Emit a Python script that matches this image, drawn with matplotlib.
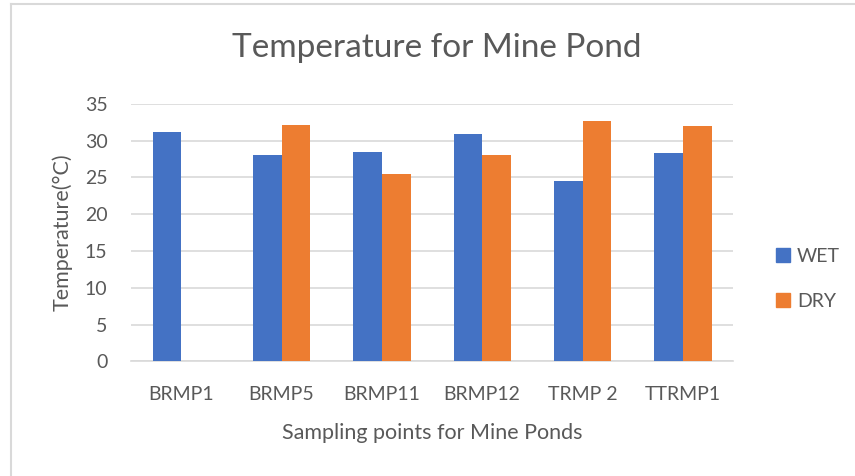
import matplotlib
matplotlib.use("Agg")
import matplotlib.pyplot as plt
from matplotlib.lines import Line2D
import numpy as np

plt.rcParams['font.family'] = ['Lato', 'DejaVu Sans']

# Sampling sites and seasonal pond temperatures (°C)
sites = ["BRMP1", "BRMP5", "BRMP11", "BRMP12", "TRMP 2", "TTRMP1"]
wet = [31.1, 28.0, 28.4, 30.9, 24.5, 28.3]
dry = [np.nan, 32.1, 25.4, 28.0, 32.6, 32.0]
yticks = [0, 5, 10, 15, 20, 25, 30, 35]

blue = "#4472C4"
orange = "#ED7D31"
text_c = "#595959"
grid_c = "#D9D9D9"

fig = plt.figure(figsize=(8.55, 4.76), dpi=100)
ax = fig.add_axes([131 / 855, 1 - 361.3 / 476, 602 / 855, (361.3 - 103.7) / 476])

x = np.arange(len(sites))
bw = 1 / 3.5
ax.bar(x - bw / 2, wet, width=bw, color=blue, zorder=3)
ax.bar(x + bw / 2, dry, width=bw, color=orange, zorder=3)

ax.set_xlim(-0.5, len(sites) - 0.5)
ax.set_ylim(0, 35)
ax.set_yticks(yticks)
ax.yaxis.grid(True, color=grid_c, linewidth=1.2, zorder=0)
ax.set_axisbelow(True)
for s in ["top", "right", "left"]:
    ax.spines[s].set_visible(False)
ax.spines["bottom"].set_color(grid_c)
ax.spines["bottom"].set_linewidth(1.2)
ax.tick_params(axis="both", length=0, colors=text_c, labelsize=14)
ax.tick_params(axis="y", pad=17)
ax.tick_params(axis="x", pad=18)
ax.set_xticks(x)
ax.set_xticklabels(sites)

ax.set_xlabel("Sampling points for Mine Ponds", color=text_c, fontsize=15.5, labelpad=14)
ax.set_ylabel("Temperature(°C)", color=text_c, fontsize=15.5, labelpad=9)
fig.text(437 / 855, 1 - 48 / 476, "Temperature for Mine Pond", ha="center", va="center",
         color=text_c, fontsize=24)

handles = [Line2D([], [], marker="s", linestyle="none", markersize=10, color=blue),
           Line2D([], [], marker="s", linestyle="none", markersize=10, color=orange)]
fig.legend(handles, ["WET", "DRY"], loc="center left", bbox_to_anchor=(756 / 855, 1 - 279 / 476),
           frameon=False, fontsize=14, labelcolor=text_c, handletextpad=0.2,
           labelspacing=1.45, handlelength=1.0)

# Chart-area frame on the left and top edges
fig.add_artist(Line2D([10.5 / 855, 10.5 / 855], [0, 1 - 4 / 476], transform=fig.transFigure,
                      color=grid_c, linewidth=1.5))
fig.add_artist(Line2D([10.5 / 855, 1], [1 - 4 / 476, 1 - 4 / 476], transform=fig.transFigure,
                      color=grid_c, linewidth=1.5))

fig.savefig("out.png", dpi=100)
